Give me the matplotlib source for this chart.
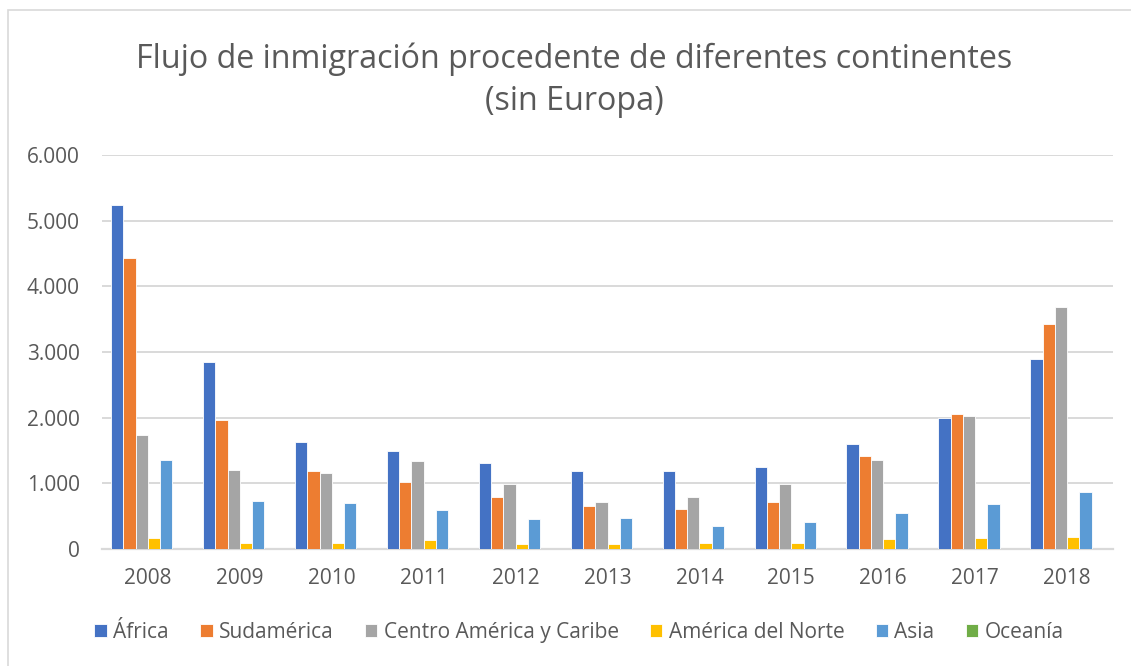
import numpy as np
import matplotlib
matplotlib.use("Agg")
import matplotlib.pyplot as plt
from matplotlib.ticker import FuncFormatter
from matplotlib.patches import Rectangle

plt.rcParams['font.family'] = ['Open Sans', 'DejaVu Sans']

years = ['2008', '2009', '2010', '2011', '2012', '2013', '2014', '2015', '2016', '2017', '2018']
africa = [5245, 2850, 1635, 1490, 1315, 1195, 1195, 1255, 1605, 2000, 2900]
sudamerica = [4435, 1960, 1195, 1025, 790, 655, 605, 720, 1410, 2050, 3430]
centro_america = [1730, 1210, 1160, 1340, 990, 720, 785, 985, 1355, 2020, 3690]
america_norte = [165, 90, 90, 135, 80, 80, 90, 90, 150, 160, 185]
asia = [1360, 735, 700, 595, 450, 475, 350, 415, 545, 680, 875]
oceania = [0, 0, 0, 0, 0, 0, 0, 0, 0, 0, 0]

series = [
    ('África', africa, '#4472C4'),
    ('Sudamérica', sudamerica, '#ED7D31'),
    ('Centro América y Caribe', centro_america, '#A5A5A5'),
    ('América del Norte', america_norte, '#FFC000'),
    ('Asia', asia, '#5B9BD5'),
    ('Oceanía', oceania, '#70AD47'),
]

text_col = '#595959'
grid_col = '#D9D9D9'

fig = plt.figure(figsize=(11.31, 6.66), dpi=100)
fig.patches.append(Rectangle((8 / 1131, -0.1), 1.2, 1 - 10 / 666 + 0.1,
                             transform=fig.transFigure, fill=False,
                             edgecolor=grid_col, linewidth=1.2))

ax = fig.add_axes([0.0902, 0.1757, 0.8939, 0.5916])

x = np.arange(len(years))
n = len(series)
slot = 0.80 / n
for i, (name, vals, col) in enumerate(series):
    ax.bar(x - 0.40 + slot * (i + 0.5), vals, width=slot, color=col,
           edgecolor='white', linewidth=0.6, label=name, zorder=3)

ax.set_xlim(-0.5, len(years) - 0.5)
ax.set_ylim(0, 6000)
ax.set_yticks(np.arange(0, 6001, 1000))
ax.yaxis.set_major_formatter(FuncFormatter(lambda v, p: f'{int(v):,}'.replace(',', '.')))
ax.set_xticks(x)
ax.set_xticklabels(years)
ax.grid(axis='y', color=grid_col, linewidth=1.4, zorder=0)
for s in ['top', 'right', 'left']:
    ax.spines[s].set_visible(False)
ax.spines['bottom'].set_color(grid_col)
ax.spines['bottom'].set_linewidth(1.6)
ax.tick_params(axis='both', length=0, labelsize=15, colors=text_col)
ax.tick_params(axis='y', pad=16)
ax.tick_params(axis='x', pad=14)

fig.text(0.508, 0.880, 'Flujo de inmigración procedente de diferentes continentes\n(sin Europa)',
         ha='center', va='center', fontsize=23.2, color=text_col, linespacing=1.35)

fig.legend(loc='center', bbox_to_anchor=(0.512, 0.051), ncol=6, frameon=False,
           fontsize=15, labelcolor=text_col, handlelength=0.6, handleheight=0.6,
           handletextpad=0.3, columnspacing=1.5)

fig.savefig('out.png', dpi=100)
